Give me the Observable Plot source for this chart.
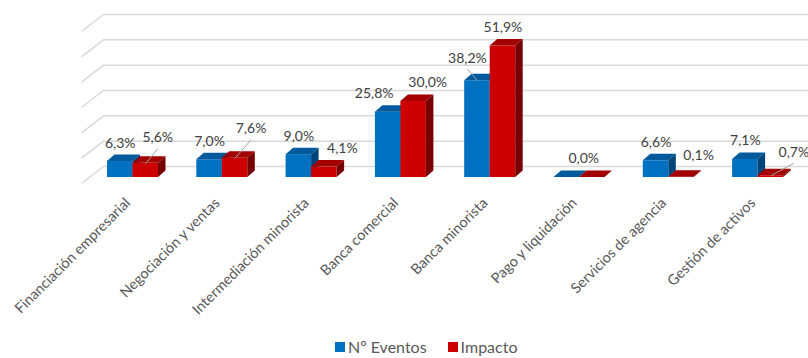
<!DOCTYPE html>
<html>
<head>
<meta charset="utf-8">
<script src="https://cdn.jsdelivr.net/npm/d3@7"></script>
<script src="https://cdn.jsdelivr.net/npm/@observablehq/plot@0.6"></script>
<style>
  html, body { margin: 0; padding: 0; background: #ffffff; }
  body { position: relative; width: 808px; height: 358px; overflow: hidden; font-family: Lato, "Open Sans", sans-serif; }
  #legend { position: absolute; top: 339px; left: 335px; display: flex; align-items: center; font-size: 16px; line-height: 16px; color: #595959; }
  #legend .sw { width: 10px; height: 10px; display: inline-block; margin-right: 3px; }
  #legend .item { display: flex; align-items: center; margin-right: 21px; }
</style>
</head>
<body>
<div id="chart"></div>
<div id="legend"></div>
<script>
// ---- data ----
const categorias = ["Financiación empresarial", "Negociación y ventas", "Intermediación minorista", "Banca comercial", "Banca minorista", "Pago y liquidación", "Servicios de agencia", "Gestión de activos"];
const eventos = [6.3, 7.0, 9.0, 25.8, 38.2, 0.0, 6.6, 7.1];
const impacto = [5.6, 7.6, 4.1, 30.0, 51.9, 0.0, 0.1, 0.7];
const series = ["Nº Eventos", "Impacto"];
const gridTicks = [0, 10, 20, 30, 40, 50, 60];
// labels hidden in the original (Impacto for "Pago y liquidación")
const mostrarImpacto = [true, true, true, true, true, false, true, true];

// ---- style / geometry (pixels) ----
const W = 808, H = 332;
const mTop = 14, mBottom = 166, mLeft = 81, mRight = 0;
const PX_X = 89.3;                 // px per category
const xDomain = [-(132.5 - mLeft) / PX_X, (W - 132.5) / PX_X];
const yDomain = [0, 60];
const PX_Y = (H - mTop - mBottom) / (yDomain[1] - yDomain[0]);
const ux = px => px / PX_X, uy = px => px / PX_Y;
const BAR_W = ux(25.5), DX = ux(7.5), DY = uy(6.5), FLOOR = -uy(11);
const GRID_X0 = -ux(132.5 - 103), DIAG_DROP = uy(17);
const colors = {
  "Nº Eventos": {front: "#0070C0", top: "#005A9C", side: "#00457A"},
  "Impacto":    {front: "#CC0000", top: "#A30000", side: "#780000"}
};
// manual label adjustments (px) as in the original chart, and leader lines
const ajuste = {
  "Nº Eventos": {3: [-14, 0, false], 4: [-10, -4, true], 5: [17, 0, false]},
  "Impacto":    {0: [-2, -7, true], 1: [2, -11, true], 2: [4, 0, false], 4: [-14, 0, false], 6: [3, -3, false], 7: [9, -5, true]}
};

// ---- derived tables ----
const bars = [];
series.forEach((s, si) => {
  const vals = si === 0 ? eventos : impacto;
  vals.forEach((v, i) => {
    const x1 = si === 0 ? i - BAR_W : i;
    bars.push({s, i, v, x1, x2: x1 + BAR_W, y1: FLOOR, y2: FLOOR + v, id: s + i});
  });
});
const tops = bars.flatMap(b => [
  {...b, ty: b.y2, tx1: b.x1, tx2: b.x2},
  {...b, ty: b.y2 + DY, tx1: b.x1 + DX, tx2: b.x2 + DX}
]);
const sides = bars.flatMap(b => [
  {...b, sx: b.x2, sy1: b.y1, sy2: b.y2},
  {...b, sx: b.x2 + DX, sy1: b.y1 + DY, sy2: b.y2 + DY}
]);
const labels = bars.filter(b => b.s === series[0] || mostrarImpacto[b.i]).map(b => {
  const a = (ajuste[b.s] || {})[b.i] || [0, 0, false];
  const cx = (b.x1 + b.x2) / 2;
  const lx = cx + (b.s === series[1] ? ux(14) : 0) + ux(a[0]);
  const ly = b.y2 + DY + uy(12) - uy(a[1]);
  return {...b, lx, ly, cx, leader: a[2], text: b.v.toFixed(1).replace(".", ",") + "%"};
});

const faceMarks = s => [
  Plot.rect(bars.filter(b => b.s === s), {x1: "x1", x2: "x2", y1: "y1", y2: "y2", fill: colors[s].front}),
  Plot.areaX(tops.filter(b => b.s === s), {y: "ty", x1: "tx1", x2: "tx2", z: "id", fill: colors[s].top, curve: "linear"}),
  Plot.areaY(sides.filter(b => b.s === s), {x: "sx", y1: "sy1", y2: "sy2", z: "id", fill: colors[s].side, curve: "linear"})
];

const chart = Plot.plot({
  width: W, height: H,
  marginTop: mTop, marginBottom: mBottom, marginLeft: mLeft, marginRight: mRight,
  style: {fontFamily: "Lato, 'Open Sans', sans-serif", background: "#ffffff", overflow: "visible"},
  x: {type: "linear", domain: xDomain, axis: null},
  y: {type: "linear", domain: yDomain, axis: null},
  marks: [
    Plot.ruleY(gridTicks, {x1: GRID_X0, x2: xDomain[1], stroke: "#d9d9d9", strokeWidth: 1.5}),
    Plot.link(gridTicks, {x1: xDomain[0], y1: d => d - DIAG_DROP, x2: GRID_X0, y2: d => d, stroke: "#d9d9d9", strokeWidth: 1.5}),
    ...faceMarks(series[0]),
    ...faceMarks(series[1]),
    Plot.link(labels.filter(l => l.leader), {x1: "lx", y1: d => d.ly - uy(11), x2: "cx", y2: "y2", stroke: "#a6a6a6", strokeWidth: 1}),
    Plot.text(labels, {x: "lx", y: "ly", text: "text", fill: "#404040", fontSize: 14}),
    Plot.axisX(d3.range(categorias.length), {
      tickFormat: i => categorias[i], tickRotate: -45, tickSize: 0, tickPadding: 34, dx: -5,
      fontSize: 14.5, fill: "#595959", label: null
    })
  ]
});
document.getElementById("chart").appendChild(chart);

// ---- legend ----
const legend = document.getElementById("legend");
series.forEach(s => {
  const it = document.createElement("span");
  it.className = "item";
  it.innerHTML = `<span class="sw" style="background:${colors[s].front}"></span><span>${s}</span>`;
  legend.appendChild(it);
});
</script>
</body>
</html>
